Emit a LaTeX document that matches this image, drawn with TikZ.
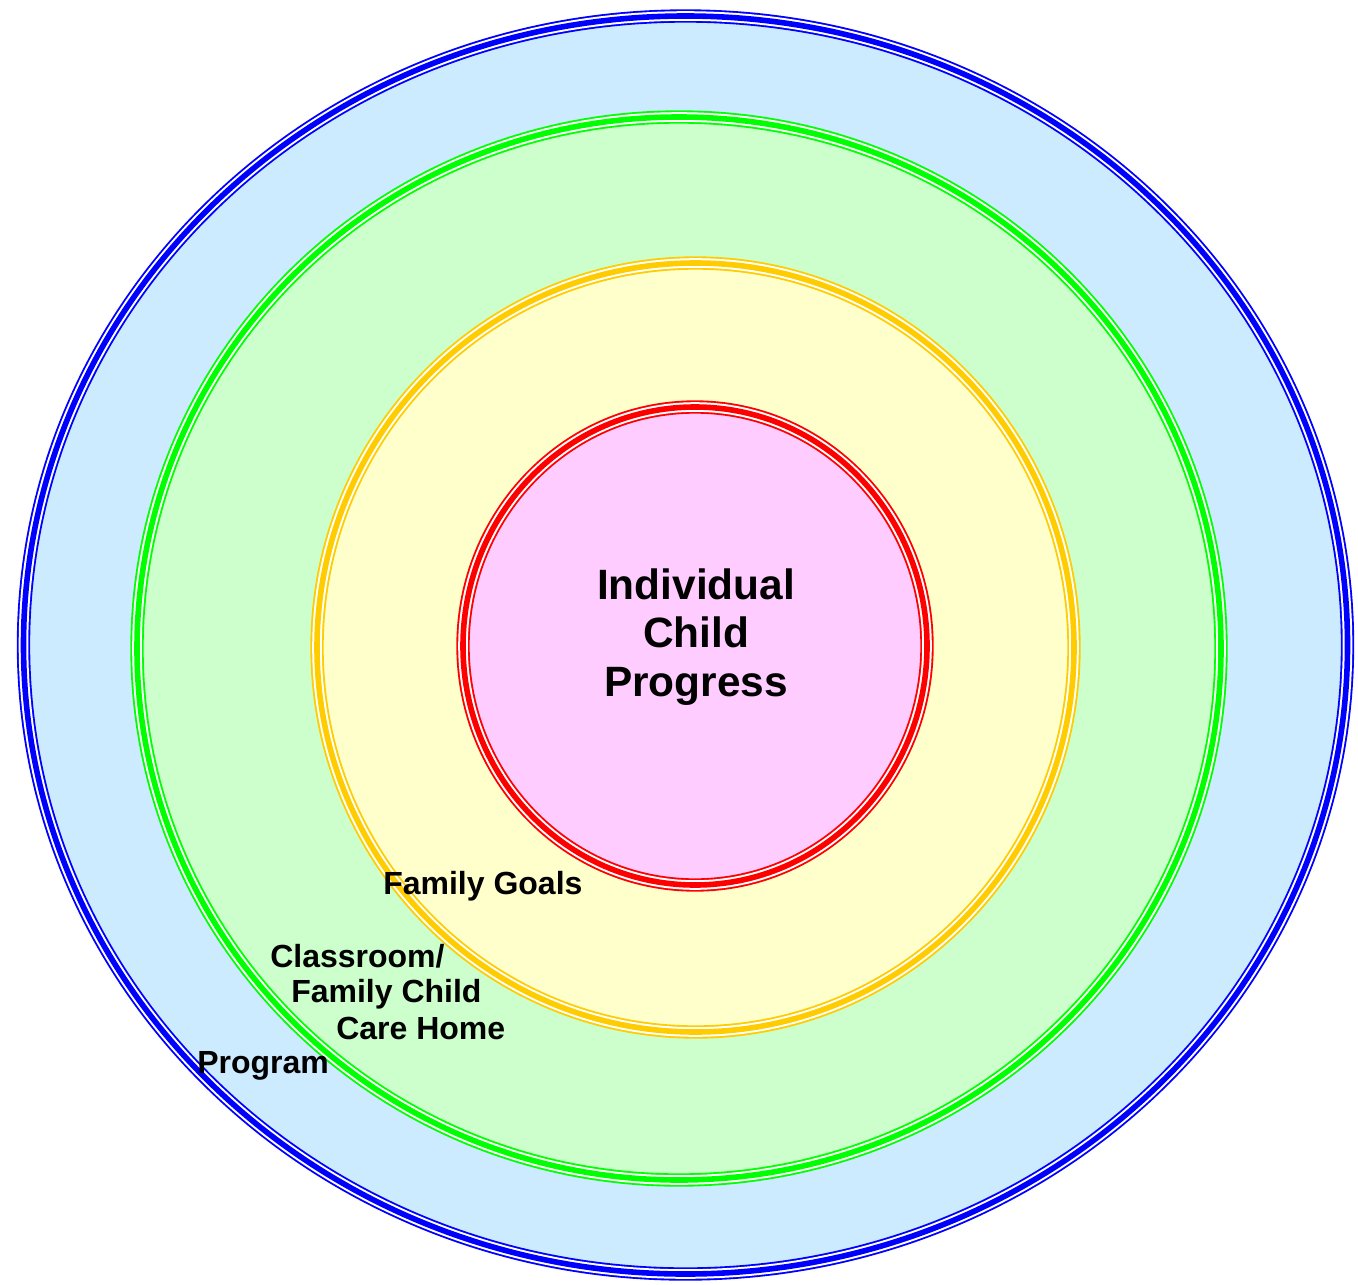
\documentclass[tikz,border=0pt]{standalone}
\usepackage{fontspec}
\setmainfont{Liberation Sans}
\definecolor{progblue}{HTML}{0000FF}
\definecolor{progfill}{HTML}{CCEBFF}
\definecolor{roomgreen}{HTML}{00FF00}
\definecolor{roomfill}{HTML}{CCFFCC}
\definecolor{famyellow}{HTML}{FFCC00}
\definecolor{famfill}{HTML}{FFFFCC}
\definecolor{childred}{HTML}{FF0000}
\definecolor{childfill}{HTML}{FFCCFF}
\tikzset{
  triple/.style={draw=#1,line width=10pt,
    postaction={draw=white,line width=7.2pt},
    postaction={draw=#1,line width=4.2pt}},
  lbl/.style={inner sep=0pt,font=\bfseries\fontsize{24pt}{27.4pt}\selectfont}
}
\begin{document}
\begin{tikzpicture}[x=0.75pt,y=-0.75pt]
            \useasboundingbox[fill=white](0,0)rectangle(1358,1284);
            % Program
            \fill[progfill](685.5,645)ellipse[x radius=662,y radius=629];
            \draw[triple=progblue](685.5,645)ellipse[x radius=662,y radius=629];
            % Classroom
            \fill[roomfill](679,648.5)ellipse[x radius=542,y radius=531.5];
            \draw[triple=roomgreen](679,648.5)ellipse[x radius=542,y radius=531.5];
            % Family
            \fill[famfill](695.5,647.5)ellipse[x radius=378.5,y radius=384.5];
            \draw[triple=famyellow](695.5,647.5)ellipse[x radius=378.5,y radius=384.5];
            % Child
            \fill[childfill](695,646)ellipse[x radius=232,y radius=239];
            \draw[triple=childred](695,646)ellipse[x radius=232,y radius=239];
            % Labels
            \node[align=center,inner sep=0pt,font=\bfseries\fontsize{31.8pt}{36.6pt}\selectfont](child)at(696,637){Individual\\Child\\Progress};
            \node[lbl,anchor=base west](family)at(383,894){Family Goals};
            \node[lbl,anchor=base west](room)at(270,967){Classroom/};
            \node[lbl,anchor=base west](roomb)at(291,1002){Family Child};
            \node[lbl,anchor=base west](roomc)at(336,1039){Care Home};
            \node[lbl,anchor=base west](program)at(197,1073){Program};
        \end{tikzpicture}
\end{document}
